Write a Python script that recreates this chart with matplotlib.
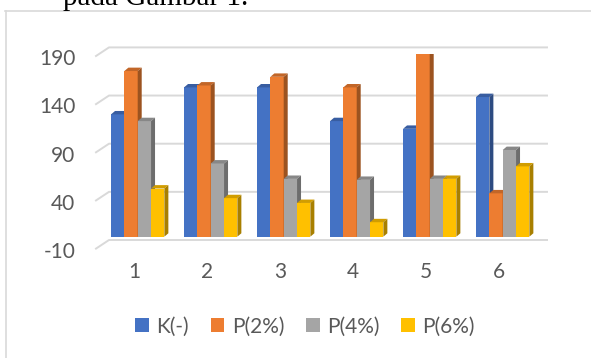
import numpy as np
import matplotlib.pyplot as plt
from matplotlib.patches import Polygon, Patch
from matplotlib.lines import Line2D
from matplotlib.transforms import ScaledTranslation
from matplotlib.colors import to_rgb

# --- data ---
categories = ["1", "2", "3", "4", "5", "6"]
series_names = ["K(-)", "P(2%)", "P(4%)", "P(6%)"]
k_ctrl = [127, 155, 155, 120, 112, 145]
p_2 = [172, 157, 166, 155, 190, 45]
p_4 = [120, 76, 60, 59, 60, 90]
p_6 = [50, 40, 35, 15, 60, 73]
y_ticks = [-10, 40, 90, 140, 190]

colors = ["#4472C4", "#ED7D31", "#A5A5A5", "#FFC000"]
text_col = "#595959"
grid_col = "#D9D9D9"

plt.rcParams['font.family'] = ['Lato', 'DejaVu Sans']

W, H = 591, 358
fig = plt.figure(figsize=(W / 100, H / 100), dpi=100)

# caption line from the page above, cut off by the top edge
fig.text(63 / W, 1 - 5 / H, "pada Gambar 1.", family="Liberation Serif",
         fontsize=21, color="black", va="baseline", ha="left")

# chart frame (only top and left edges show)
fig.add_artist(Line2D([5 / W, 1], [1 - 11 / H, 1 - 11 / H], color=grid_col, lw=1.2))
fig.add_artist(Line2D([5.5 / W, 5.5 / W], [0, 1 - 11 / H], color=grid_col, lw=1.2))

ax_l, ax_r, ax_t, ax_b = 101.2, 539.2, 53.7, 246.3
ax = fig.add_axes([ax_l / W, (H - ax_b) / H, (ax_r - ax_l) / W, (ax_b - ax_t) / H])
ax.set_xlim(-0.5, 5.5)
ax.set_ylim(-10, 190)
ax.set_facecolor("none")
for s in ax.spines.values():
    s.set_visible(False)

x = np.arange(len(categories))
values = [k_ctrl, p_2, p_4, p_6]
bw = 0.1826

# pixel -> data scale for the 3D depth faces
p0 = ax.transData.transform((0, 0))
p1 = ax.transData.transform((1, 1))
sx, sy = p1[0] - p0[0], p1[1] - p0[1]
ddx, ddy = 4 / sx, 3.4 / sy


def shade(c, f):
    r, g, b = to_rgb(c)
    return (r * f, g * f, b * f)


for j, (vals, c) in enumerate(zip(values, colors)):
    left = x - 2 * bw + j * bw
    ax.bar(left, vals, width=bw, align="edge", color=c, zorder=3 + j, lw=0)
    for xl, h in zip(left, vals):
        xr = xl + bw
        top = [(xl, h), (xr, h), (xr + ddx, h + ddy), (xl + ddx, h + ddy)]
        side = [(xr, 0), (xr, h), (xr + ddx, h + ddy), (xr + ddx, ddy)]
        ax.add_patch(Polygon(top, closed=True, fc=shade(c, 0.82), lw=0, zorder=3.5 + j))
        ax.add_patch(Polygon(side, closed=True, fc=shade(c, 0.66), lw=0, zorder=3.5 + j))

# gridlines on the back wall with the short side-wall segment
x0, x1 = ax.get_xlim()
for v in y_ticks:
    a = ax.transData.transform((x0, v))
    b = ax.transData.transform((x1, v))
    xs = [a[0] - 5.2, a[0] + 7.8, b[0] + 7.8]
    ys = [a[1] - 2.3, a[1] + 6.3, b[1] + 6.3]
    ax.add_line(Line2D(xs, ys, transform=None, color=grid_col, lw=1.4,
                       zorder=1, clip_on=False))

ax.set_yticks(y_ticks)
ax.set_yticklabels([str(t) for t in y_ticks])
ax.set_xticks(x)
ax.set_xticklabels(categories)
ax.tick_params(axis="y", length=0, pad=18.6, labelsize=15, labelcolor=text_col)
ax.tick_params(axis="x", length=0, pad=11, labelsize=15, labelcolor=text_col)
for lab in ax.get_yticklabels():
    lab.set_transform(lab.get_transform() + ScaledTranslation(0, -3.5 / 100, fig.dpi_scale_trans))
for lab in ax.get_xticklabels():
    lab.set_transform(lab.get_transform() + ScaledTranslation(-3.4 / 100, 0, fig.dpi_scale_trans))

handles = [Patch(facecolor=c, edgecolor="none") for c in colors]
fig.legend(handles, series_names, loc="center", bbox_to_anchor=(305 / W, 1 - 326.7 / H),
           ncol=4, frameon=False, fontsize=15, labelcolor=text_col,
           handlelength=0.65, handleheight=0.65, handletextpad=0.35, columnspacing=1.05)

fig.savefig("out.png", dpi=100)
